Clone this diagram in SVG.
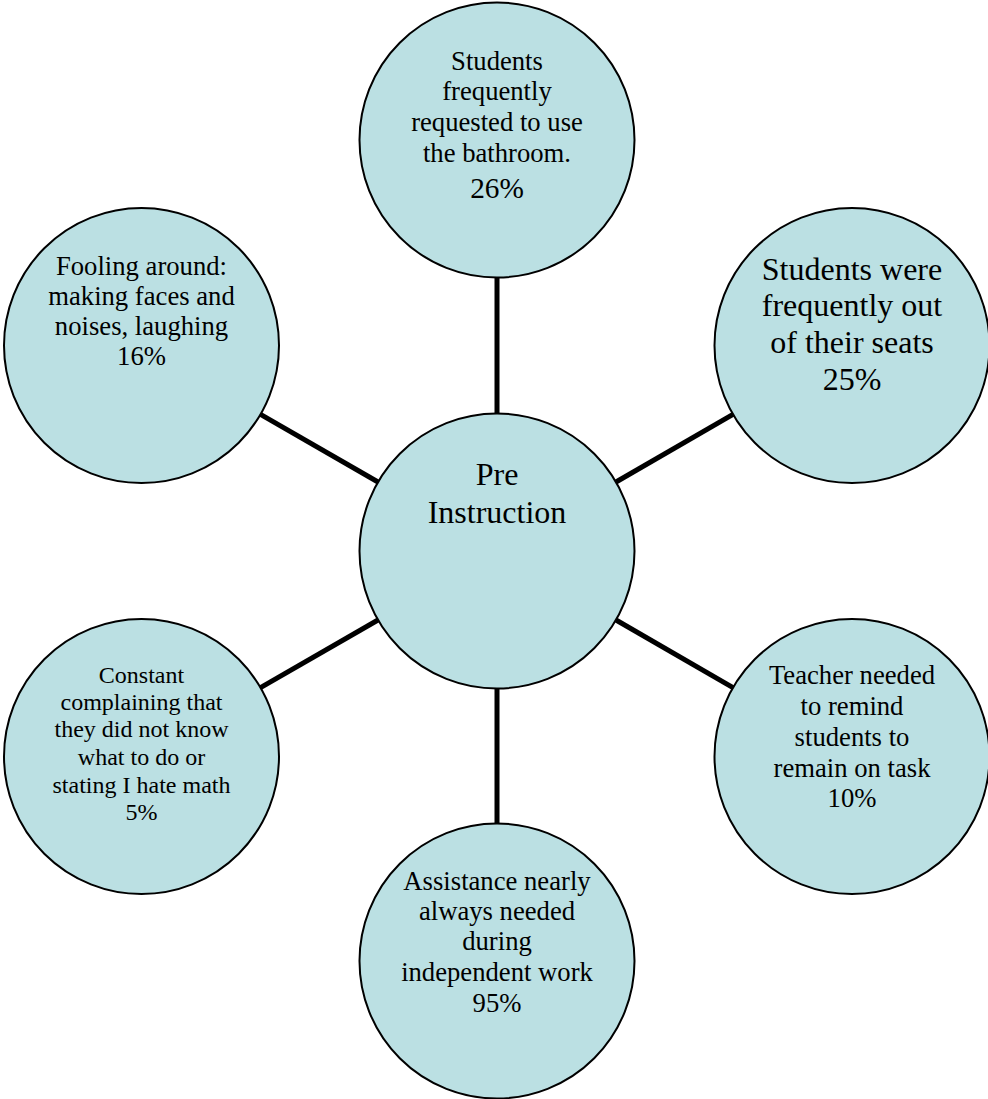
<svg xmlns="http://www.w3.org/2000/svg" width="988" height="1099" viewBox="0 0 988 1099">
<style>
.n{fill:#BBE0E3;stroke:#000;stroke-width:2}
.c line{stroke:#000;stroke-width:5}
text{font-family:"Liberation Serif","Times New Roman",serif;fill:#000;text-anchor:middle}
.s20{font-size:26.67px}
.s18{font-size:24px}
.s24{font-size:32px}
.s22{font-size:29.3px}
</style>
<rect width="988" height="1099" fill="#fff"/>
<g id="connectors" class="c">
<line x1="497" y1="413.5" x2="497" y2="277.5"/>
<line x1="616" y1="482" x2="733" y2="414.4"/>
<line x1="616" y1="620" x2="733" y2="687.6"/>
<line x1="497" y1="688.5" x2="497" y2="823.5"/>
<line x1="378" y1="620" x2="260.5" y2="687.6"/>
<line x1="378" y1="482" x2="260.5" y2="414.4"/>
</g>
<g id="center">
<circle class="n" cx="497" cy="551" r="137.5"/>
<text class="s24" x="497" y="485">Pre</text>
<text class="s24" x="497" y="523">Instruction</text>
</g>
<g id="top">
<circle class="n" cx="497" cy="140" r="137.5"/>
<text class="s20" x="497" y="70">Students</text>
<text class="s20" x="497" y="100">frequently</text>
<text class="s20" x="497" y="131">requested to use</text>
<text class="s20" x="497" y="162">the bathroom.</text>
<text class="s22" x="497" y="198">26%</text>
</g>
<g id="top-right">
<circle class="n" cx="852" cy="345.5" r="137.5"/>
<text class="s24" x="852" y="280">Students were</text>
<text class="s24" x="852" y="316">frequently out</text>
<text class="s24" x="852" y="353">of their seats</text>
<text class="s24" x="852" y="390">25%</text>
</g>
<g id="bottom-right">
<circle class="n" cx="852" cy="756.5" r="137.5"/>
<text class="s20" x="852" y="684">Teacher needed</text>
<text class="s20" x="852" y="715">to remind</text>
<text class="s20" x="852" y="746">students to</text>
<text class="s20" x="852" y="777">remain on task</text>
<text class="s20" x="852" y="807">10%</text>
</g>
<g id="bottom">
<circle class="n" cx="497" cy="961" r="137.5"/>
<text class="s20" x="497" y="890">Assistance nearly</text>
<text class="s20" x="497" y="920">always needed</text>
<text class="s20" x="497" y="950">during</text>
<text class="s20" x="497" y="981">independent work</text>
<text class="s20" x="497" y="1012">95%</text>
</g>
<g id="bottom-left">
<circle class="n" cx="141.5" cy="756.5" r="137.5"/>
<text class="s18" x="141.5" y="683">Constant</text>
<text class="s18" x="141.5" y="710">complaining that</text>
<text class="s18" x="141.5" y="737">they did not know</text>
<text class="s18" x="141.5" y="765">what to do or</text>
<text class="s18" x="141.5" y="793">stating I hate math</text>
<text class="s18" x="141.5" y="820">5%</text>
</g>
<g id="top-left">
<circle class="n" cx="141.5" cy="345.5" r="137.5"/>
<text class="s20" x="141.5" y="275">Fooling around:</text>
<text class="s20" x="141.5" y="305">making faces and</text>
<text class="s20" x="141.5" y="335">noises, laughing</text>
<text class="s20" x="141.5" y="365">16%</text>
</g>
</svg>
